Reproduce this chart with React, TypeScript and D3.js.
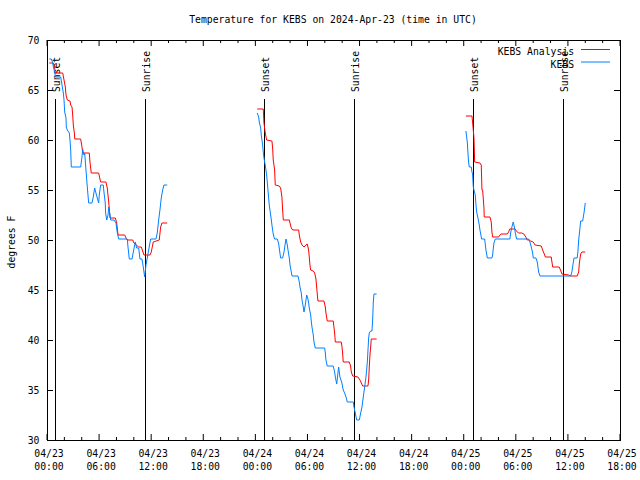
import React from "react";
import * as d3 from "d3";

const title = "Temperature for KEBS on 2024-Apr-23 (time in UTC)";
const yLabel = "degrees F";
const seriesNames = ["KEBS Analysis", "KEBS"];
const seriesColors = ["#ff0000", "#0080ff"];
const yTicks = [30, 35, 40, 45, 50, 55, 60, 65, 70];
const startDate = new Date(Date.UTC(2024, 3, 23, 0, 0));
const endDate = new Date(Date.UTC(2024, 3, 25, 18, 0));
// hours after 04/23 00:00 UTC
const sunsetHours = [0.96, 25.03, 49.1];
const sunriseHours = [11.32, 35.39, 59.46];

// KEBS Analysis (hours, degF)
const analysis1: [number, number][] = [[0.26,67.7],[0.73,67.7],[0.89,67.1],[1.12,66.7],[1.81,66.7],[1.96,66.0],[2.11,65.3],[2.19,64.5],[2.34,64.0],[2.65,63.9],[2.73,63.5],[2.88,63.3],[2.96,62.5],[3.03,61.5],[3.15,60.7],[3.2,60.1],[3.88,60.1],[4.03,59.3],[4.11,58.7],[4.87,58.7],[4.95,57.8],[5.10,56.7],[5.95,56.7],[6.10,56.1],[6.18,55.8],[6.79,55.8],[6.94,55.2],[7.11,53.8],[7.26,52.2],[7.87,52.2],[8.03,51.7],[8.18,50.5],[8.95,50.5],[9.10,50.2],[9.25,50.0],[9.87,50.0],[10.02,49.7],[10.56,49.3],[10.86,49.3],[11.02,48.9],[11.17,48.5],[11.86,48.5],[12.01,48.8],[12.24,49.8],[12.93,50.0],[13.09,51.3],[13.24,51.7],[13.85,51.7]];
const analysis2: [number, number][] = [[24.22,63.1],[24.91,63.1],[24.99,61.7],[25.14,60.7],[25.30,60.0],[25.91,59.9],[25.99,59.2],[26.06,58.0],[26.22,57.0],[26.29,55.5],[26.75,55.4],[26.91,55.2],[27.06,54.3],[27.14,53.0],[27.22,52.0],[27.91,52.0],[27.99,51.7],[28.14,51.2],[28.30,51.0],[28.99,51.0],[29.06,50.5],[29.22,49.8],[29.37,49.5],[29.60,49.3],[29.83,49.5],[29.98,49.6],[30.13,49.0],[30.21,48.3],[30.29,47.5],[30.37,47.0],[30.67,46.9],[30.83,46.7],[30.98,46.1],[31.06,45.3],[31.14,44.5],[31.21,43.9],[31.90,43.9],[32.06,43.3],[32.13,42.7],[32.28,41.9],[32.97,41.9],[33.05,41.3],[33.13,40.7],[33.21,39.8],[33.89,39.8],[33.97,39.4],[34.05,38.7],[34.12,37.8],[34.82,37.8],[34.97,37.4],[35.05,36.8],[35.21,36.4],[35.82,36.3],[36.05,36.0],[36.36,35.4],[36.97,35.4],[37.05,36.0],[37.12,37.3],[37.20,38.5],[37.28,39.3],[37.35,40.1],[37.97,40.1]];
const analysis3: [number, number][] = [[48.25,62.4],[48.95,62.4],[49.05,61.5],[49.18,60.2],[49.26,57.8],[49.87,57.7],[50.02,57.5],[50.1,55.0],[50.18,55.0],[50.33,53.2],[50.36,52.3],[51.02,52.3],[51.17,51.8],[51.25,50.8],[51.33,50.3],[52.02,50.3],[52.17,50.5],[52.3,50.6],[53.01,50.6],[53.17,50.8],[53.3,51.1],[53.92,51.1],[54.07,50.9],[54.30,50.7],[54.68,50.7],[54.92,50.6],[55.15,50.3],[55.31,50.0],[55.53,50.0],[55.70,49.9],[56.0,49.8],[56.23,49.5],[56.93,49.4],[57.09,49.0],[57.32,48.5],[57.4,48.3],[58.08,48.3],[58.16,47.8],[58.25,47.3],[58.99,47.3],[59.15,47.0],[59.31,46.6],[60.08,46.5],[60.31,46.4],[61.07,46.4],[61.24,46.8],[61.32,47.7],[61.47,48.6],[61.62,48.8],[62.0,48.8]];

// KEBS observations (hours, degF)
const obs1: [number, number][] = [[0.26,68.1],[0.50,68.1],[0.66,67.7],[0.73,67.3],[0.89,66.8],[0.96,66.3],[1.58,66.3],[1.73,65.5],[1.88,64.7],[1.96,64.0],[2.04,62.8],[2.19,62.2],[2.22,61.3],[2.34,61.0],[2.57,60.7],[2.65,60.0],[2.73,59.0],[2.80,57.3],[3.88,57.3],[3.95,57.8],[4.03,58.3],[4.11,59.1],[4.26,58.5],[4.34,58.7],[4.49,57.0],[4.64,55.3],[4.80,53.7],[5.18,53.7],[5.33,54.3],[5.49,55.2],[5.64,54.7],[5.79,54.2],[5.95,53.7],[6.02,54.5],[6.18,55.5],[6.48,55.5],[6.56,54.8],[6.71,53.7],[6.75,52.7],[6.88,52.0],[7.03,52.5],[7.11,53.3],[7.26,52.5],[7.34,52.0],[7.72,52.0],[7.95,51.7],[8.10,50.7],[8.26,50.1],[9.25,50.1],[9.33,49.3],[9.48,48.1],[9.79,48.1],[9.94,48.8],[10.17,49.8],[10.33,49.2],[10.56,49.2],[10.71,48.1],[10.94,48.1],[11.09,47.3],[11.25,46.3],[11.40,47.5],[11.55,48.2],[11.71,49.0],[11.94,50.1],[12.55,50.1],[12.70,50.7],[12.86,52.0],[13.01,53.0],[13.16,54.2],[13.32,55.0],[13.47,55.5],[13.85,55.5]];
const obs2: [number, number][] = [[24.22,62.7],[24.38,62.3],[24.45,61.8],[24.61,61.2],[24.68,60.5],[24.76,60.0],[24.84,59.5],[24.91,58.8],[24.99,58.2],[25.07,57.8],[25.14,57.5],[25.30,56.5],[25.37,55.8],[25.45,55.0],[25.53,54.2],[25.60,53.5],[25.68,53.0],[25.76,52.5],[25.84,52.0],[25.91,51.5],[25.99,51.0],[26.06,50.6],[26.14,50.3],[26.22,50.1],[26.52,50.1],[26.67,49.7],[26.75,49.2],[26.83,48.7],[26.91,48.2],[27.14,48.2],[27.30,48.8],[27.45,49.7],[27.53,50.1],[27.68,49.5],[27.76,49.0],[27.91,48.2],[27.99,47.5],[28.14,46.8],[28.22,46.4],[28.91,46.4],[29.06,45.8],[29.14,45.3],[29.29,44.7],[29.37,44.0],[29.52,43.3],[29.60,42.8],[29.75,43.5],[29.91,44.5],[30.06,44.1],[30.14,43.7],[30.21,43.2],[30.37,42.5],[30.45,41.8],[30.52,41.3],[30.67,40.5],[30.75,39.8],[30.90,39.2],[31.98,39.2],[32.06,38.7],[32.13,38.0],[32.28,37.4],[32.97,37.4],[33.13,36.8],[33.21,36.3],[33.37,35.6],[33.59,37.3],[33.67,36.8],[33.74,36.3],[33.97,35.7],[34.12,35.0],[34.28,34.7],[34.44,34.3],[34.59,33.8],[35.28,33.8],[35.36,33.3],[35.51,32.7],[35.67,32.0],[35.97,32.0],[36.13,32.7],[36.28,33.3],[36.43,34.3],[36.59,35.3],[36.74,36.3],[36.89,37.7],[37.05,40.2],[37.12,40.7],[37.28,40.9],[37.43,40.9],[37.51,42.0],[37.58,43.7],[37.66,44.6],[37.97,44.6]];
const obs3: [number, number][] = [[48.25,60.9],[48.41,59.8],[48.48,58.8],[48.56,57.8],[48.64,57.3],[48.87,57.3],[48.95,56.8],[49.02,56.6],[49.1,55.3],[49.18,55.0],[49.33,54.5],[49.41,53.5],[49.49,52.8],[49.64,52.2],[49.79,51.5],[49.87,51.0],[50.02,50.3],[50.05,50.1],[50.41,50.1],[50.49,49.5],[50.56,49.0],[50.72,48.2],[51.25,48.2],[51.33,48.5],[51.41,49.2],[51.48,49.7],[51.64,50.1],[53.32,50.1],[53.40,50.7],[53.55,51.3],[53.70,51.8],[53.86,51.2],[53.94,50.7],[54.09,50.1],[55.47,50.1],[55.63,49.8],[55.78,49.3],[55.94,48.7],[56.01,48.2],[56.32,48.2],[56.47,47.8],[56.55,47.3],[56.63,46.8],[56.78,46.4],[60.31,46.4],[60.46,46.8],[60.54,47.3],[60.70,48.2],[61.07,48.2],[61.15,48.8],[61.24,50.0],[61.39,51.2],[61.47,51.9],[61.70,51.9],[61.85,52.7],[61.93,53.2],[62.0,53.7]];

const W = 640, H = 480;
const M = { left: 47, right: 620, top: 40, bottom: 440 };
const FONT = "'DejaVu Sans Mono', monospace";
const FS = 9.75;

const hourToDate = (h: number) => new Date(startDate.getTime() + h * 3600000);

export default function App() {
  const x = d3.scaleUtc().domain([startDate, endDate]).range([M.left, M.right]);
  const y = d3.scaleLinear().domain([30, 70]).range([M.bottom, M.top]);
  const line = d3.line<[number, number]>().x(d => x(hourToDate(d[0]))).y(d => y(d[1]));
  const majorTicks = x.ticks(d3.utcHour.every(6)!);
  const minorTicks = x.ticks(d3.utcHour.every(2)!).filter(t => t.getUTCHours() % 6 !== 0);
  const fmtDay = d3.utcFormat("%m/%d");
  const fmtTime = d3.utcFormat("%H:%M");
  const analysisSegs = [analysis1, analysis2, analysis3];
  const obsSegs = [obs1, obs2, obs3];

  const sunMarks = [
    ...sunsetHours.map(h => ({ h, label: "Sunset" })),
    ...sunriseHours.map(h => ({ h, label: "Sunrise" })),
  ];

  return (
    <svg width={W} height={H} style={{ position: "absolute", left: 0, top: 0, background: "#fff" }} fontFamily={FONT} fontSize={FS}>
      <rect x={0} y={0} width={W} height={H} fill="#fff" />
      <text x={333} y={23} textAnchor="middle">{title}</text>

      {yTicks.map(t => (
        <g key={"y" + t}>
          <line x1={M.left} x2={M.left + 6} y1={y(t) + 0.5} y2={y(t) + 0.5} stroke="#000" />
          <line x1={M.right} x2={M.right - 6} y1={y(t) + 0.5} y2={y(t) + 0.5} stroke="#000" />
          <text x={39.5} y={y(t) + 3.5} textAnchor="end">{t}</text>
        </g>
      ))}

      {majorTicks.map(t => (
        <g key={"x" + t.getTime()}>
          <line x1={x(t)} x2={x(t)} y1={M.bottom} y2={M.bottom - 6} stroke="#000" />
          <line x1={x(t)} x2={x(t)} y1={M.top} y2={M.top + 6} stroke="#000" />
          <text x={x(t) + 2} y={457} textAnchor="middle">{fmtDay(t)}</text>
          <text x={x(t) + 2} y={470} textAnchor="middle">{fmtTime(t)}</text>
        </g>
      ))}
      {minorTicks.map(t => (
        <g key={"m" + t.getTime()}>
          <line x1={x(t)} x2={x(t)} y1={M.bottom} y2={M.bottom - 3} stroke="#000" />
          <line x1={x(t)} x2={x(t)} y1={M.top} y2={M.top + 3} stroke="#000" />
        </g>
      ))}

      <text transform={`translate(15,242) rotate(-90)`} textAnchor="middle">{yLabel}</text>

      {sunMarks.map((s, i) => {
        const sx = Math.round(x(hourToDate(s.h))) + 0.5;
        return (
          <g key={"s" + i}>
            <line x1={sx} x2={sx} y1={99} y2={M.bottom} stroke="#000" />
            <text transform={`translate(${sx + 4.5},92) rotate(-90)`} textAnchor="start">{s.label}</text>
          </g>
        );
      })}

      {analysisSegs.map((seg, i) => (
        <path key={"a" + i} d={line(seg) || ""} fill="none" stroke={seriesColors[0]} strokeWidth={1} />
      ))}
      {obsSegs.map((seg, i) => (
        <path key={"o" + i} d={line(seg) || ""} fill="none" stroke={seriesColors[1]} strokeWidth={1} />
      ))}

      {seriesNames.map((n, i) => (
        <g key={"l" + i}>
          <text x={574} y={54.5 + i * 13} textAnchor="end">{n}</text>
          <path d={`M581,${49.5 + i * 12.5}H610`} fill="none" stroke={seriesColors[i]} strokeWidth={1} />
        </g>
      ))}

      <rect x={M.left + 0.5} y={M.top + 0.5} width={M.right - M.left} height={M.bottom - M.top} fill="none" stroke="#000" />
    </svg>
  );
}
